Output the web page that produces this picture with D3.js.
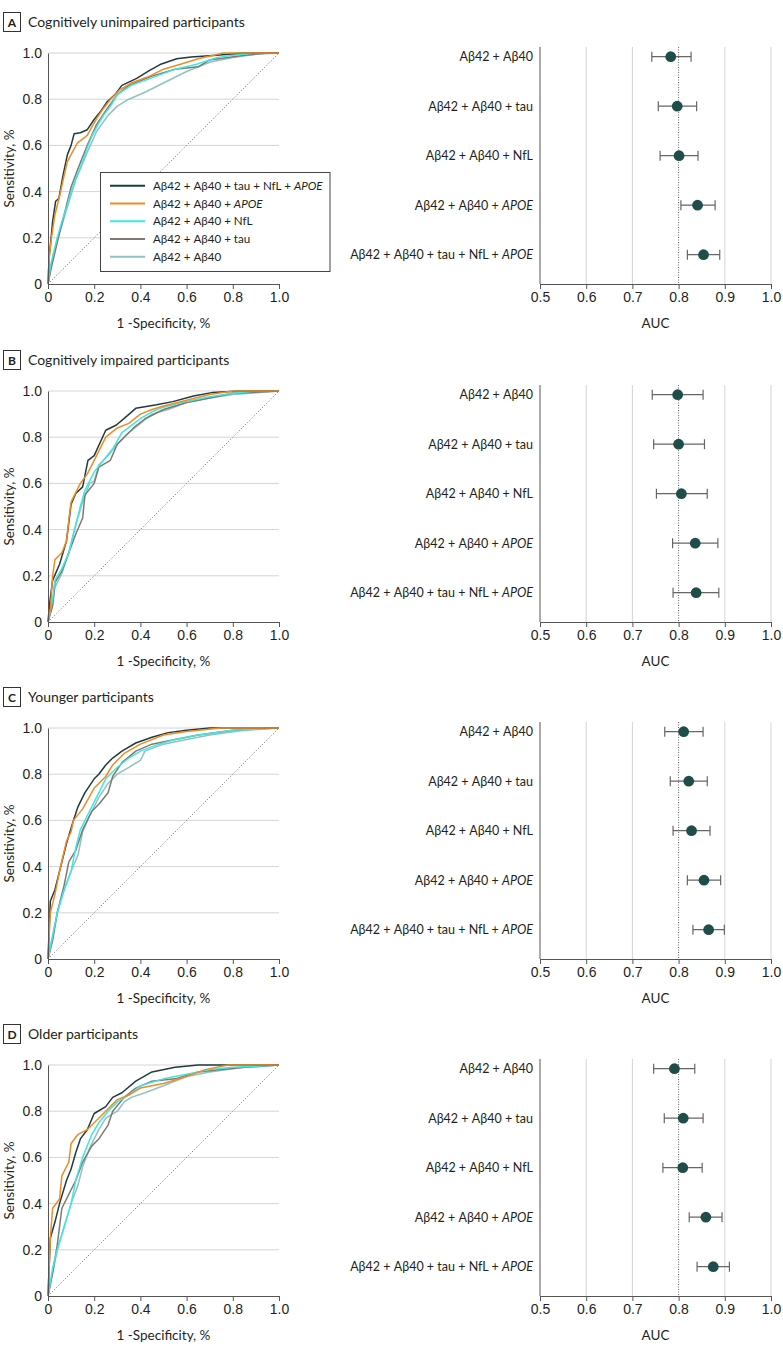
<!DOCTYPE html>
<html>
  <head>
    <meta charset="utf-8">
    <script src="https://d3js.org/d3.v7.min.js"></script>
    <style>
      body { margin: 0; background: #fff; }
      svg { font-family: "Lato", "Open Sans", sans-serif; }
    </style>
  </head>
  <body>
    <svg class="chart"></svg>
  </body>
  <script>
  // ---- data ----
  const panelLetters = ['A', 'B', 'C', 'D'];
  const panelTitles = [
    'Cognitively unimpaired participants',
    'Cognitively impaired participants',
    'Younger participants',
    'Older participants'
  ];

  // legend order (top to bottom)
  const modelNames = [
    'Aβ42 + Aβ40 + tau + NfL + APOE',
    'Aβ42 + Aβ40 + APOE',
    'Aβ42 + Aβ40 + NfL',
    'Aβ42 + Aβ40 + tau',
    'Aβ42 + Aβ40'
  ];
  const modelColors = ['#1f3b3e', '#f28a24', '#3fe6e6', '#7e7a6f', '#8fc2c2'];

  // forest rows, top to bottom
  const forestLabels = [
    'Aβ42 + Aβ40',
    'Aβ42 + Aβ40 + tau',
    'Aβ42 + Aβ40 + NfL',
    'Aβ42 + Aβ40 + APOE',
    'Aβ42 + Aβ40 + tau + NfL + APOE'
  ];
  const aucA = [0.783, 0.797, 0.801, 0.841, 0.854];
  const lowA = [0.742, 0.756, 0.760, 0.805, 0.819];
  const highA = [0.827, 0.839, 0.842, 0.879, 0.889];
  const aucB = [0.798, 0.800, 0.806, 0.836, 0.838];
  const lowB = [0.743, 0.746, 0.752, 0.787, 0.788];
  const highB = [0.853, 0.856, 0.862, 0.885, 0.887];
  const aucC = [0.811, 0.822, 0.828, 0.855, 0.865];
  const lowC = [0.770, 0.782, 0.788, 0.819, 0.831];
  const highC = [0.853, 0.862, 0.868, 0.891, 0.899];
  const aucD = [0.791, 0.810, 0.809, 0.859, 0.875];
  const lowD = [0.746, 0.769, 0.766, 0.823, 0.840];
  const highD = [0.835, 0.853, 0.851, 0.894, 0.910];

  // ROC curves [1 - specificity, sensitivity], in legend order
  const rocA = [
    [[0,0],[0.005,0.12],[0.012,0.185],[0.02,0.27],[0.033,0.358],[0.047,0.37],[0.065,0.47],[0.084,0.56],[0.1,0.6],[0.113,0.65],[0.14,0.655],[0.17,0.668],[0.199,0.711],[0.23,0.75],[0.257,0.79],[0.29,0.82],[0.32,0.86],[0.384,0.89],[0.44,0.925],[0.485,0.95],[0.557,0.975],[0.62,0.983],[0.73,0.99],[0.84,1],[1,1]],
    [[0,0],[0.006,0.12],[0.015,0.2],[0.03,0.3],[0.05,0.38],[0.07,0.47],[0.084,0.53],[0.105,0.57],[0.127,0.61],[0.17,0.643],[0.19,0.68],[0.213,0.72],[0.24,0.76],[0.271,0.8],[0.31,0.84],[0.36,0.87],[0.44,0.9],[0.5,0.93],[0.57,0.95],[0.65,0.975],[0.76,1],[1,1]],
    [[0,0],[0.012,0.084],[0.025,0.14],[0.04,0.2],[0.06,0.27],[0.084,0.343],[0.1,0.4],[0.127,0.473],[0.15,0.53],[0.17,0.59],[0.19,0.64],[0.213,0.683],[0.24,0.73],[0.271,0.77],[0.3,0.82],[0.36,0.86],[0.47,0.9],[0.55,0.93],[0.64,0.95],[0.73,0.98],[0.8,0.99],[0.9,1],[1,1]],
    [[0,0],[0.012,0.06],[0.04,0.18],[0.07,0.3],[0.1,0.42],[0.13,0.5],[0.17,0.6],[0.21,0.69],[0.25,0.75],[0.3,0.82],[0.35,0.86],[0.45,0.9],[0.55,0.93],[0.65,0.94],[0.7,0.97],[0.85,0.99],[0.95,1],[1,1]],
    [[0,0],[0.012,0.07],[0.04,0.19],[0.08,0.32],[0.12,0.45],[0.17,0.57],[0.21,0.66],[0.26,0.73],[0.3,0.77],[0.35,0.8],[0.42,0.83],[0.5,0.87],[0.6,0.92],[0.7,0.96],[0.8,0.98],[0.9,0.995],[1,1]]
  ];
  const rocB = [
    [[0,0],[0.007,0.08],[0.02,0.18],[0.05,0.25],[0.08,0.35],[0.1,0.51],[0.12,0.556],[0.15,0.585],[0.173,0.7],[0.2,0.72],[0.25,0.83],[0.296,0.853],[0.34,0.89],[0.38,0.925],[0.47,0.94],[0.54,0.954],[0.63,0.978],[0.714,0.994],[0.83,1],[1,1]],
    [[0,0],[0.01,0.05],[0.02,0.2],[0.03,0.27],[0.06,0.3],[0.08,0.35],[0.09,0.44],[0.1,0.52],[0.12,0.56],[0.14,0.6],[0.17,0.64],[0.2,0.7],[0.22,0.74],[0.25,0.8],[0.3,0.84],[0.35,0.86],[0.4,0.9],[0.45,0.92],[0.5,0.935],[0.6,0.96],[0.7,0.985],[0.8,1],[1,1]],
    [[0,0],[0.02,0.1],[0.03,0.18],[0.06,0.23],[0.09,0.3],[0.12,0.42],[0.14,0.5],[0.16,0.57],[0.2,0.65],[0.24,0.7],[0.28,0.75],[0.32,0.82],[0.36,0.85],[0.4,0.88],[0.45,0.91],[0.5,0.93],[0.6,0.955],[0.7,0.975],[0.8,0.99],[0.9,1],[1,1]],
    [[0,0],[0.02,0.07],[0.03,0.17],[0.06,0.22],[0.09,0.3],[0.12,0.38],[0.15,0.45],[0.16,0.55],[0.2,0.6],[0.22,0.67],[0.27,0.7],[0.3,0.77],[0.33,0.8],[0.37,0.84],[0.42,0.88],[0.5,0.92],[0.6,0.95],[0.7,0.97],[0.8,0.99],[1,1]],
    [[0,0],[0.02,0.08],[0.03,0.15],[0.06,0.21],[0.09,0.3],[0.12,0.42],[0.15,0.52],[0.18,0.6],[0.2,0.61],[0.22,0.68],[0.26,0.72],[0.3,0.77],[0.35,0.82],[0.4,0.86],[0.45,0.9],[0.52,0.92],[0.6,0.95],[0.7,0.97],[0.8,0.985],[1,1]]
  ];
  const rocC = [
    [[0,0],[0.01,0.25],[0.03,0.3],[0.05,0.38],[0.08,0.5],[0.11,0.6],[0.13,0.66],[0.16,0.72],[0.2,0.78],[0.22,0.8],[0.25,0.84],[0.28,0.87],[0.32,0.9],[0.38,0.935],[0.45,0.96],[0.52,0.98],[0.6,0.99],[0.7,1],[1,1]],
    [[0,0],[0.01,0.2],[0.03,0.28],[0.05,0.38],[0.08,0.51],[0.1,0.55],[0.11,0.6],[0.15,0.65],[0.2,0.74],[0.25,0.79],[0.28,0.84],[0.33,0.89],[0.4,0.93],[0.5,0.97],[0.6,0.985],[0.75,1],[1,1]],
    [[0,0],[0.02,0.1],[0.04,0.2],[0.07,0.3],[0.1,0.38],[0.12,0.48],[0.14,0.56],[0.17,0.62],[0.21,0.7],[0.25,0.78],[0.3,0.83],[0.35,0.87],[0.4,0.9],[0.48,0.93],[0.55,0.95],[0.65,0.97],[0.8,0.99],[1,1]],
    [[0,0],[0.02,0.08],[0.04,0.2],[0.07,0.32],[0.09,0.42],[0.12,0.47],[0.15,0.56],[0.19,0.64],[0.22,0.67],[0.26,0.72],[0.28,0.79],[0.32,0.85],[0.38,0.9],[0.45,0.93],[0.55,0.95],[0.65,0.97],[0.8,0.99],[0.97,1],[1,1]],
    [[0,0],[0.02,0.1],[0.04,0.2],[0.07,0.3],[0.1,0.38],[0.13,0.45],[0.15,0.55],[0.18,0.62],[0.22,0.7],[0.26,0.76],[0.3,0.8],[0.35,0.83],[0.4,0.86],[0.42,0.9],[0.5,0.93],[0.6,0.95],[0.7,0.97],[0.85,0.99],[1,1]]
  ];
  const rocD = [
    [[0,0],[0.01,0.25],[0.03,0.32],[0.05,0.4],[0.08,0.5],[0.1,0.55],[0.12,0.62],[0.14,0.68],[0.17,0.72],[0.2,0.79],[0.25,0.82],[0.28,0.86],[0.32,0.88],[0.38,0.93],[0.45,0.97],[0.55,0.99],[0.65,1],[1,1]],
    [[0,0],[0.01,0.25],[0.02,0.38],[0.05,0.42],[0.06,0.52],[0.09,0.58],[0.1,0.66],[0.13,0.7],[0.17,0.72],[0.2,0.75],[0.25,0.8],[0.3,0.85],[0.35,0.87],[0.4,0.9],[0.5,0.92],[0.6,0.95],[0.68,0.98],[0.78,1],[1,1]],
    [[0,0],[0.02,0.12],[0.04,0.2],[0.07,0.3],[0.1,0.4],[0.12,0.5],[0.15,0.6],[0.19,0.7],[0.22,0.75],[0.26,0.8],[0.3,0.84],[0.35,0.87],[0.4,0.91],[0.5,0.94],[0.6,0.96],[0.7,0.98],[0.8,0.99],[1,1]],
    [[0,0],[0.02,0.1],[0.04,0.22],[0.06,0.38],[0.09,0.44],[0.12,0.5],[0.15,0.58],[0.19,0.65],[0.22,0.68],[0.26,0.74],[0.28,0.8],[0.33,0.86],[0.38,0.9],[0.45,0.93],[0.55,0.94],[0.65,0.97],[0.75,0.98],[0.85,0.99],[1,1]],
    [[0,0],[0.02,0.1],[0.04,0.2],[0.07,0.3],[0.1,0.4],[0.13,0.48],[0.15,0.56],[0.18,0.64],[0.22,0.72],[0.25,0.77],[0.3,0.8],[0.33,0.84],[0.36,0.86],[0.42,0.88],[0.5,0.91],[0.6,0.95],[0.7,0.97],[0.85,0.99],[1,1]]
  ];

  const rocTicks = [0, 0.2, 0.4, 0.6, 0.8, 1.0];
  const aucTicks = [0.5, 0.6, 0.7, 0.8, 0.9, 1.0];

  const panels = [
    {roc: rocA, auc: aucA, low: lowA, high: highA},
    {roc: rocB, auc: aucB, low: lowB, high: highB},
    {roc: rocC, auc: aucC, low: lowC, high: highC},
    {roc: rocD, auc: aucD, low: lowD, high: highD}
  ];

  // ---- layout ----
  const width = 783, height = 1350;
  const panelTops = [53, 391, 728, 1065];
  const plotSize = 231;
  const rocLeft = 48;
  const forestLeft = 540, forestWidth = 231;
  const textColor = '#231f20';
  const axisColor = '#555';
  const gridColor = '#d4d4d4';

  const svg = d3.select('.chart')
    .attr('width', width)
    .attr('height', height)
    .attr('viewBox', [0, 0, width, height]);

  // writes a label, putting APOE in italics
  function richText(sel, str){
    const parts = str.split('APOE');
    parts.forEach((p, i) => {
      if(p) sel.append('tspan').text(p);
      if(i < parts.length - 1) sel.append('tspan').attr('font-style', 'italic').text('APOE');
    });
  }

  const fmtTick = d => d === 0 ? '0' : d3.format('.1f')(d);

  panels.forEach((panel, pi) => {
    const top = panelTops[pi];
    const bottom = top + plotSize;
    const g = svg.append('g');

    // panel header
    const titleY = top - 31;
    g.append('rect')
      .attr('x', 3.5).attr('y', titleY - 9.5)
      .attr('width', 17).attr('height', 19)
      .attr('fill', '#fff').attr('stroke', '#333').attr('stroke-width', 1);
    g.append('text')
      .attr('x', 12).attr('y', titleY + 4.5)
      .attr('text-anchor', 'middle')
      .attr('font-size', 12).attr('font-weight', 'bold')
      .attr('fill', textColor)
      .text(panelLetters[pi]);
    g.append('text')
      .attr('x', 28).attr('y', titleY + 5)
      .attr('font-size', 14)
      .attr('fill', textColor)
      .text(panelTitles[pi]);

    // ---- ROC ----
    const x = d3.scaleLinear().domain([0, 1]).range([rocLeft, rocLeft + plotSize]);
    const y = d3.scaleLinear().domain([0, 1]).range([bottom, top]);

    g.append('g')
      .selectAll('line')
      .data(rocTicks.filter(d => d > 0))
      .join('line')
        .attr('x1', x(0)).attr('x2', x(1))
        .attr('y1', d => y(d)).attr('y2', d => y(d))
        .attr('stroke', gridColor).attr('stroke-width', 1);

    g.append('line')
      .attr('x1', x(0)).attr('y1', y(0))
      .attr('x2', x(1)).attr('y2', y(1))
      .attr('stroke', '#444').attr('stroke-width', 0.8)
      .attr('stroke-dasharray', '1,2');

    const line = d3.line().x(d => x(d[0])).y(d => y(d[1]));
    const order = [4, 3, 2, 0, 1];
    g.append('g')
      .selectAll('path')
      .data(order)
      .join('path')
        .attr('d', i => line(panel.roc[i]))
        .attr('fill', 'none')
        .attr('stroke', i => modelColors[i])
        .attr('stroke-width', 1.5)
        .attr('stroke-linejoin', 'round');

    const yAxis = g.append('g')
      .attr('transform', `translate(${rocLeft},0)`)
      .call(d3.axisLeft(y).tickValues(rocTicks).tickFormat(fmtTick).tickSize(0).tickPadding(6));
    const xAxis = g.append('g')
      .attr('transform', `translate(0,${bottom})`)
      .call(d3.axisBottom(x).tickValues(rocTicks).tickFormat(fmtTick).tickSize(5).tickPadding(3));
    [yAxis, xAxis].forEach(a => {
      a.select('.domain').attr('stroke', axisColor);
      a.selectAll('.tick line').attr('stroke', axisColor);
      a.selectAll('text').attr('font-size', 14).attr('fill', textColor).attr('font-family', null);
    });

    g.append('text')
      .attr('transform', `translate(14,${(top + bottom) / 2}) rotate(-90)`)
      .attr('text-anchor', 'middle')
      .attr('font-size', 13.5).attr('fill', textColor)
      .text('Sensitivity, %');
    g.append('text')
      .attr('x', x(0.5)).attr('y', bottom + 44)
      .attr('text-anchor', 'middle')
      .attr('font-size', 13.5).attr('fill', textColor)
      .text('1 -Specificity, %');

    // legend only in the first panel
    if(pi === 0){
      const lg = g.append('g');
      lg.append('rect')
        .attr('x', 100.5).attr('y', 172.5)
        .attr('width', 229.5).attr('height', 99)
        .attr('fill', '#fff').attr('stroke', '#444').attr('stroke-width', 1);
      const rowY = d3.scalePoint().domain(d3.range(modelNames.length)).range([185.7, 256.7]);
      const item = lg.selectAll('g.item')
        .data(modelNames)
        .join('g').attr('class', 'item')
        .attr('transform', (d, i) => `translate(0,${rowY(i)})`);
      item.append('line')
        .attr('x1', 110).attr('x2', 145)
        .attr('stroke', (d, i) => modelColors[i]).attr('stroke-width', 2);
      item.append('text')
        .attr('x', 153).attr('y', 4.2)
        .attr('font-size', 11.6).attr('fill', textColor)
        .each(function(d){ richText(d3.select(this), d); });
    }

    // ---- forest plot ----
    const fx = d3.scaleLinear().domain([0.5, 1.0]).range([forestLeft, forestLeft + forestWidth]);
    const fy = d3.scalePoint().domain(forestLabels).range([top + 3.7, top + 201.7]);
    const fTop = top - 6;

    g.append('g')
      .selectAll('line')
      .data(aucTicks.filter(d => d > 0.5 && Math.abs(d - 0.8) > 1e-6))
      .join('line')
        .attr('x1', d => fx(d)).attr('x2', d => fx(d))
        .attr('y1', fTop).attr('y2', bottom)
        .attr('stroke', gridColor).attr('stroke-width', 1);
    g.append('line')
      .attr('x1', fx(0.8)).attr('x2', fx(0.8))
      .attr('y1', fTop).attr('y2', bottom)
      .attr('stroke', '#666').attr('stroke-width', 1)
      .attr('stroke-dasharray', '1,1.5');

    const rows = g.append('g')
      .selectAll('g')
      .data(forestLabels)
      .join('g')
      .attr('transform', d => `translate(0,${fy(d)})`);
    rows.append('line')
      .attr('x1', (d, i) => fx(panel.low[i])).attr('x2', (d, i) => fx(panel.high[i]))
      .attr('stroke', '#666').attr('stroke-width', 1.2);
    rows.append('line')
      .attr('x1', (d, i) => fx(panel.low[i])).attr('x2', (d, i) => fx(panel.low[i]))
      .attr('y1', -5).attr('y2', 5)
      .attr('stroke', '#666').attr('stroke-width', 1.2);
    rows.append('line')
      .attr('x1', (d, i) => fx(panel.high[i])).attr('x2', (d, i) => fx(panel.high[i]))
      .attr('y1', -5).attr('y2', 5)
      .attr('stroke', '#666').attr('stroke-width', 1.2);
    rows.append('circle')
      .attr('cx', (d, i) => fx(panel.auc[i]))
      .attr('r', 5.4)
      .attr('fill', '#1f4d4a');
    rows.append('text')
      .attr('x', 533).attr('y', 4.5)
      .attr('text-anchor', 'end')
      .attr('font-size', 12.5).attr('fill', textColor)
      .each(function(d){ richText(d3.select(this), d); });

    g.append('line')
      .attr('x1', forestLeft).attr('x2', forestLeft)
      .attr('y1', fTop).attr('y2', bottom)
      .attr('stroke', axisColor);
    const fAxis = g.append('g')
      .attr('transform', `translate(0,${bottom})`)
      .call(d3.axisBottom(fx).tickValues(aucTicks).tickFormat(d3.format('.1f')).tickSize(5).tickPadding(3));
    fAxis.select('.domain').attr('stroke', axisColor);
    fAxis.selectAll('.tick line').attr('stroke', axisColor);
    fAxis.selectAll('text').attr('font-size', 14).attr('fill', textColor).attr('font-family', null);

    g.append('text')
      .attr('x', fx(0.75)).attr('y', bottom + 44)
      .attr('text-anchor', 'middle')
      .attr('font-size', 13.5).attr('fill', textColor)
      .text('AUC');
  });
  </script>
</html>
